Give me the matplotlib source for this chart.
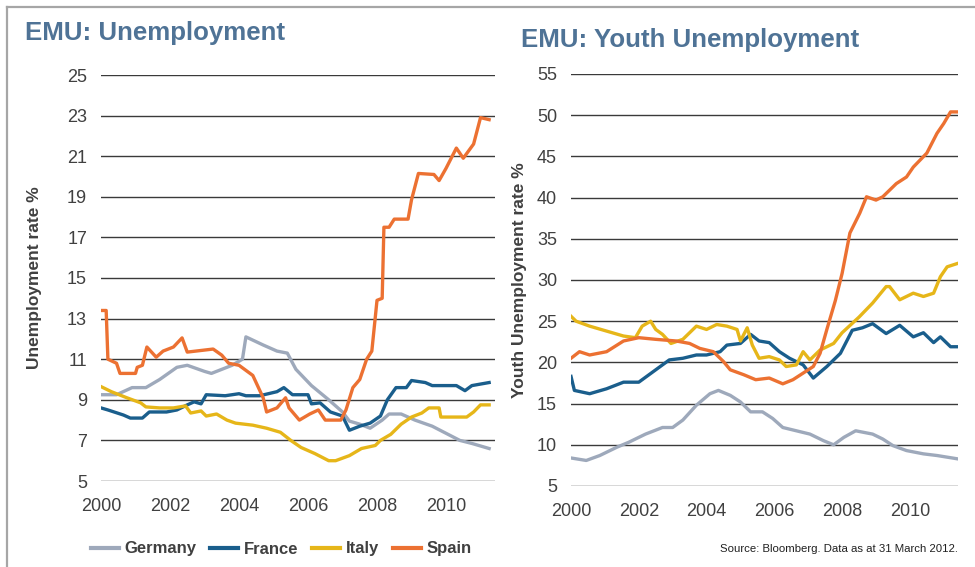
import matplotlib
matplotlib.use("Agg")
import matplotlib.pyplot as plt
from matplotlib.lines import Line2D

plt.rcParams['font.family'] = ['Liberation Sans', 'DejaVu Sans']

# EMU unemployment, % (year, value)
de_unemp = [(2000.0, 9.25), (2000.45, 9.25), (2000.9, 9.6), (2001.3, 9.6), (2001.7, 10.0), (2002.2, 10.6),
            (2002.5, 10.7), (2003.0, 10.4), (2003.2, 10.3), (2003.8, 10.7), (2004.1, 11.0), (2004.2, 12.1),
            (2004.7, 11.7), (2005.1, 11.4), (2005.4, 11.3), (2005.65, 10.5), (2006.1, 9.7), (2006.6, 9.0),
            (2007.0, 8.4), (2007.2, 7.95), (2007.5, 7.8), (2007.8, 7.6), (2008.15, 8.0), (2008.35, 8.3),
            (2008.7, 8.3), (2009.1, 8.0), (2009.6, 7.7), (2010.0, 7.35), (2010.4, 7.0), (2010.75, 6.85),
            (2011.25, 6.6)]
fr_unemp = [(2000.0, 8.6), (2000.2, 8.5), (2000.65, 8.25), (2000.85, 8.1), (2001.2, 8.1), (2001.4, 8.4),
            (2001.9, 8.4), (2002.2, 8.5), (2002.5, 8.75), (2002.7, 8.9), (2002.9, 8.8), (2003.05, 9.25),
            (2003.6, 9.2), (2004.0, 9.3), (2004.2, 9.2), (2004.6, 9.2), (2005.1, 9.4), (2005.3, 9.6),
            (2005.55, 9.25), (2006.0, 9.25), (2006.1, 8.8), (2006.35, 8.85), (2006.65, 8.4), (2007.0, 8.2),
            (2007.2, 7.5), (2007.5, 7.7), (2007.8, 7.85), (2008.1, 8.2), (2008.3, 9.0), (2008.55, 9.6),
            (2008.85, 9.6), (2009.0, 9.95), (2009.4, 9.85), (2009.6, 9.7), (2010.3, 9.7), (2010.55, 9.45),
            (2010.75, 9.7), (2011.25, 9.85)]
it_unemp = [(2000.0, 9.65), (2000.3, 9.4), (2000.75, 9.1), (2001.15, 8.85), (2001.3, 8.65), (2001.7, 8.6),
            (2002.1, 8.6), (2002.45, 8.7), (2002.6, 8.35), (2002.9, 8.45), (2003.05, 8.2), (2003.35, 8.3),
            (2003.65, 8.0), (2003.9, 7.85), (2004.4, 7.75), (2004.8, 7.6), (2005.2, 7.4), (2005.5, 7.0),
            (2005.8, 6.65), (2006.2, 6.35), (2006.6, 6.0), (2006.8, 6.0), (2007.2, 6.25), (2007.55, 6.6),
            (2007.95, 6.75), (2008.1, 7.0), (2008.4, 7.3), (2008.7, 7.8), (2009.0, 8.15), (2009.3, 8.35),
            (2009.5, 8.6), (2009.8, 8.6), (2009.85, 8.15), (2010.6, 8.15), (2010.8, 8.4), (2011.0, 8.75),
            (2011.25, 8.75)]
es_unemp = [(2000.0, 13.4), (2000.15, 13.4), (2000.2, 11.0), (2000.45, 10.8), (2000.55, 10.3), (2001.0, 10.3),
            (2001.05, 10.6), (2001.2, 10.7), (2001.33, 11.6), (2001.6, 11.1), (2001.8, 11.4), (2002.1, 11.6),
            (2002.35, 12.05), (2002.5, 11.35), (2003.25, 11.5), (2003.5, 11.2), (2003.7, 10.8), (2004.0, 10.7),
            (2004.4, 10.2), (2004.7, 9.1), (2004.8, 8.4), (2005.1, 8.6), (2005.35, 9.1), (2005.45, 8.6),
            (2005.75, 8.0), (2006.05, 8.3), (2006.3, 8.5), (2006.5, 8.0), (2006.95, 8.0), (2007.1, 8.5),
            (2007.3, 9.6), (2007.5, 10.0), (2007.7, 11.0), (2007.85, 11.4), (2008.0, 13.9), (2008.15, 14.0),
            (2008.2, 17.5), (2008.35, 17.5), (2008.5, 17.9), (2008.9, 17.9), (2009.0, 18.85), (2009.2, 20.15),
            (2009.65, 20.1), (2009.8, 19.8), (2010.0, 20.4), (2010.3, 21.4), (2010.5, 20.9), (2010.8, 21.6),
            (2011.0, 22.9), (2011.25, 22.8)]

# EMU youth unemployment, %
de_youth = [(2000.0, 8.4), (2000.45, 8.1), (2000.85, 8.7), (2001.35, 9.7), (2001.7, 10.3), (2002.2, 11.3),
            (2002.7, 12.1), (2003.0, 12.1), (2003.3, 13.0), (2003.7, 14.8), (2004.1, 16.2), (2004.35, 16.6),
            (2004.7, 16.0), (2005.0, 15.2), (2005.3, 14.0), (2005.65, 14.0), (2005.95, 13.2), (2006.25, 12.1),
            (2006.65, 11.7), (2007.05, 11.3), (2007.45, 10.5), (2007.75, 10.0), (2008.05, 10.9), (2008.4, 11.7),
            (2008.9, 11.3), (2009.2, 10.7), (2009.5, 9.9), (2009.9, 9.3), (2010.4, 8.9), (2010.8, 8.7),
            (2011.4, 8.3)]
fr_youth = [(2000.0, 18.3), (2000.1, 16.6), (2000.55, 16.2), (2001.05, 16.8), (2001.55, 17.6), (2002.0, 17.6),
            (2002.3, 18.5), (2002.7, 19.7), (2002.9, 20.3), (2003.3, 20.5), (2003.7, 20.9), (2004.0, 20.9),
            (2004.4, 21.3), (2004.6, 22.1), (2005.0, 22.3), (2005.3, 23.4), (2005.55, 22.6), (2005.85, 22.4),
            (2006.15, 21.3), (2006.45, 20.5), (2006.85, 19.7), (2007.15, 18.1), (2007.55, 19.5), (2007.95, 21.1),
            (2008.3, 23.9), (2008.6, 24.2), (2008.9, 24.7), (2009.3, 23.5), (2009.7, 24.5), (2010.1, 23.1),
            (2010.4, 23.6), (2010.7, 22.4), (2010.9, 23.1), (2011.2, 21.9), (2011.4, 21.9)]
it_youth = [(2000.0, 25.6), (2000.15, 25.0), (2000.55, 24.4), (2001.05, 23.8), (2001.55, 23.2), (2001.9, 23.0),
            (2002.1, 24.4), (2002.35, 25.0), (2002.5, 24.0), (2002.7, 23.4), (2002.95, 22.3), (2003.3, 22.8),
            (2003.5, 23.6), (2003.7, 24.4), (2004.0, 24.0), (2004.3, 24.6), (2004.6, 24.4), (2004.9, 24.0),
            (2005.0, 22.6), (2005.2, 24.2), (2005.35, 22.1), (2005.55, 20.5), (2005.85, 20.7), (2006.15, 20.3),
            (2006.35, 19.5), (2006.65, 19.7), (2006.85, 21.3), (2007.05, 20.3), (2007.35, 21.5), (2007.75, 22.3),
            (2008.0, 23.6), (2008.5, 25.5), (2008.9, 27.2), (2009.3, 29.2), (2009.4, 29.2), (2009.7, 27.6),
            (2010.1, 28.4), (2010.4, 28.0), (2010.7, 28.4), (2010.9, 30.4), (2011.1, 31.6), (2011.4, 32.0)]
es_youth = [(2000.0, 20.5), (2000.25, 21.3), (2000.55, 20.9), (2001.05, 21.3), (2001.55, 22.6), (2002.0, 23.0),
            (2002.5, 22.8), (2003.1, 22.6), (2003.5, 22.3), (2003.8, 21.7), (2004.2, 21.3), (2004.5, 20.1),
            (2004.7, 19.1), (2005.1, 18.5), (2005.45, 17.9), (2005.85, 18.1), (2006.25, 17.4), (2006.55, 17.9),
            (2006.85, 18.7), (2007.15, 19.5), (2007.35, 21.1), (2007.55, 24.0), (2007.8, 27.5), (2008.0, 30.8),
            (2008.23, 35.7), (2008.52, 38.1), (2008.72, 40.1), (2009.0, 39.7), (2009.2, 40.1), (2009.6, 41.7),
            (2009.9, 42.5), (2010.1, 43.7), (2010.5, 45.4), (2010.8, 47.8), (2011.0, 49.0), (2011.2, 50.4),
            (2011.4, 50.4)]

countries = ['Germany', 'France', 'Italy', 'Spain']
colors = ['#9ea9bb', '#1a5e8c', '#e6b619', '#ec7132']
years = [2000, 2002, 2004, 2006, 2008, 2010]
grey_txt = '#404040'
title_col = '#4f7396'

fig = plt.figure(figsize=(9.75, 5.67), dpi=100)

# light frame, top and left only
fig.add_artist(Line2D([7/975, 1], [1 - 7/567, 1 - 7/567], color='#a6a6a6', lw=1.6))
fig.add_artist(Line2D([7/975, 7/975], [0, 1 - 7/567], color='#a6a6a6', lw=1.6))

left = fig.add_axes([101/975, 1 - 481/567, 394/975, 406/567])
right = fig.add_axes([571/975, 1 - 486/567, 387/975, 412/567])

panels = [
    (left, [de_unemp, fr_unemp, it_unemp, es_unemp], (5, 25), range(5, 26, 2), 'Unemployment rate %', -0.150),
    (right, [de_youth, fr_youth, it_youth, es_youth], (5, 55), range(5, 56, 5), 'Youth Unemployment rate %', -0.114),
]

for ax, series, ylim, yticks, ylab, labx in panels:
    for data, name, c in zip(series, countries, colors):
        x, y = zip(*data)
        ax.plot(x, y, color=c, lw=2.4, label=name, solid_joinstyle='round')
    ax.set_xlim(2000, 2011.42)
    ax.set_ylim(*ylim)
    ax.set_yticks(list(yticks))
    ax.set_xticks(years)
    ax.grid(axis='y', color='#3a3a3a', lw=1.0)
    ax.set_axisbelow(True)
    for s in ax.spines.values():
        s.set_visible(False)
    ax.tick_params(length=0, labelsize=13, labelcolor=grey_txt)
    ax.tick_params(axis='y', pad=10)
    ax.tick_params(axis='x', pad=12)
    ax.set_ylabel(ylab, fontsize=12.5, fontweight='bold', color=grey_txt)
    ax.yaxis.set_label_coords(labx, 0.5)

fig.text(25/975, 1 - 33/567, 'EMU: Unemployment', fontsize=18.6, fontweight='bold',
         color=title_col, va='center', ha='left')
fig.text(521/975, 1 - 40/567, 'EMU: Youth Unemployment', fontsize=18.6, fontweight='bold',
         color=title_col, va='center', ha='left')

handles, labels = left.get_legend_handles_labels()
leg = fig.legend(handles, labels, loc='center', bbox_to_anchor=(281/975, 1 - 549/567), ncol=4,
                 frameon=False, handlelength=1.7, handletextpad=0.3, columnspacing=0.85,
                 prop={'size': 12, 'weight': 'bold'})
for t in leg.get_texts():
    t.set_color(grey_txt)
for h in leg.get_lines():
    h.set_linewidth(3)

fig.text(958/975, 1 - 549/567, 'Source: Bloomberg. Data as at 31 March 2012.', fontsize=8.2,
         color='#202020', ha='right', va='center')

fig.savefig('out.png', dpi=100, facecolor='white')
